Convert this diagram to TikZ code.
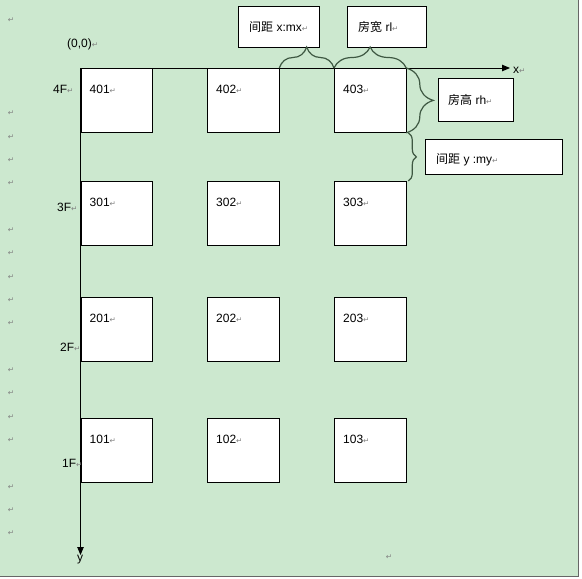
\documentclass[tikz,border=0pt]{standalone}
\usepackage{fontspec}
\setmainfont{Liberation Sans}
\newfontfamily\cjk{Noto Sans CJK SC}
\newfontfamily\djv{DejaVu Sans}
\usetikzlibrary{arrows.meta,decorations.pathreplacing}
\definecolor{bgg}{RGB}{204,232,207}
\definecolor{brc}{RGB}{62,88,66}
\newcommand{\rmk}{{\djv\color{black!50}\fontsize{7.5}{8}\selectfont ↵}}
\begin{document}
\begin{tikzpicture}[x=1pt,y=-1pt,
  txt/.style={anchor=west,inner sep=0pt,font=\fontsize{12}{14}\selectfont},
  room/.style={anchor=north west,draw,fill=white,line width=0.8pt,minimum width=71.5pt,minimum height=64pt,inner sep=0pt},
  lbox/.style={anchor=north west,draw,fill=white,line width=0.8pt,inner sep=0pt},
  axis/.style={line width=0.9pt,-{Triangle[length=8pt,width=6.5pt]}},
  bracec/.style={draw=brc,line width=1.2pt,decorate,decoration={brace,amplitude=#1}},
  pmark/.style={anchor=center,inner sep=0pt}]
\useasboundingbox (0,0) rectangle (582,579);
\fill[white] (0,0) rectangle (582,579);
\fill[bgg] (0,0) rectangle (578,576);
\draw[black!60,line width=1.5pt] (578.5,0) -- (578.5,576.5) -- (0,576.5);
% paragraph marks in the margin
\foreach \yy [count=\i] in {20,113,137,160,183,230,253,277,300,323,370,393,417,440,487,510,533}
  \node[pmark] (pm\i) at (11,\yy) {\rmk};
\node[pmark] (pmb) at (389,557) {\rmk};
% rooms
\foreach \f/\yt in {4/68,3/181,2/297,1/418}
  \foreach \c/\xl in {1/80.5,2/207,3/334}{
    \node[room] (r\f0\c) at (\xl,\yt) {};
    \node[txt] (t\f0\c) at (\xl+9,\yt+21) {\f0\c\rmk};
  }
% axes
\coordinate (O) at (80.5,68);
\coordinate (xe) at (510,68);
\coordinate (ye) at (80.5,555);
\draw[axis] (O) -- (xe);
\draw[axis] (O) -- (ye);
\node[txt] (xl) at (513,70) {x\rmk};
\node[txt] (yl) at (77,560) {y};
\node[txt] (org) at (67,44) {(0,0)\rmk};
% floor labels
\node[txt] (f4) at (53,89) {4F\rmk};
\node[txt] (f3) at (57,207) {3F\rmk};
\node[txt] (f2) at (60,347) {2F\rmk};
\node[txt] (f1) at (62,463) {1F\rmk};
% label boxes
\node[lbox,minimum width=81pt,minimum height=41pt] (bmx) at (238,6) {};
\node[txt] (tmx) at (249,27) {{\cjk 间距} x:mx\rmk};
\node[lbox,minimum width=79pt,minimum height=41pt] (brl) at (347,6) {};
\node[txt] (trl) at (358,27) {{\cjk 房宽} rl\rmk};
\node[lbox,minimum width=75pt,minimum height=43pt] (brh) at (438,78) {};
\node[txt] (trh) at (448,100) {{\cjk 房高} rh\rmk};
\node[lbox,minimum width=137pt,minimum height=35pt] (bmy) at (425,139) {};
\node[txt] (tmy) at (436,160) {{\cjk 间距} y :my\rmk};
% braces
\draw[bracec=21pt] (r402.north east) -- (r403.north west);
\draw[bracec=21pt] (r403.north west) -- (r403.north east);
\draw[bracec=27pt] (r403.north east) -- (r403.south east);
\coordinate (b2a) at ([xshift=2pt]r403.south east);
\coordinate (b2b) at ([xshift=2pt]r303.north east);
\draw[bracec=8pt] (b2a) -- (b2b);
\end{tikzpicture}
\end{document}
